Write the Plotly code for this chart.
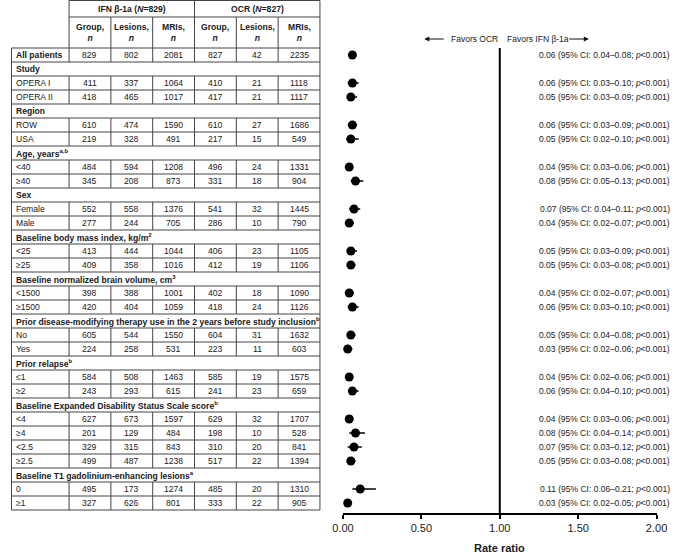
import plotly.graph_objects as go

# rows of the table / forest plot (None = section header row)
row_labels = [
    "All patients",
    "Study", "OPERA I", "OPERA II",
    "Region", "ROW", "USA",
    "Age, years<sup>a,b</sup>", "<40", "≥40",
    "Sex", "Female", "Male",
    "Baseline body mass index, kg/m<sup>2</sup>", "<25", "≥25",
    "Baseline normalized brain volume, cm<sup>3</sup>", "<1500", "≥1500",
    "Prior disease-modifying therapy use in the 2 years before study inclusion<sup>b</sup>", "No", "Yes",
    "Prior relapse<sup>b</sup>", "≤1", "≥2",
    "Baseline Expanded Disability Status Scale score<sup>b</sup>", "<4", "≥4", "<2.5", "≥2.5",
    "Baseline T1 gadolinium-enhancing lesions<sup>a</sup>", "0", "≥1",
]
ifn_group = [829, None, 411, 418, None, 610, 219, None, 484, 345, None, 552, 277,
             None, 413, 409, None, 398, 420, None, 605, 224, None, 584, 243,
             None, 627, 201, 329, 499, None, 495, 327]
ifn_lesions = [802, None, 337, 465, None, 474, 328, None, 594, 208, None, 558, 244,
               None, 444, 358, None, 388, 404, None, 544, 258, None, 508, 293,
               None, 673, 129, 315, 487, None, 173, 626]
ifn_mris = [2081, None, 1064, 1017, None, 1590, 491, None, 1208, 873, None, 1376, 705,
            None, 1044, 1016, None, 1001, 1059, None, 1550, 531, None, 1463, 615,
            None, 1597, 484, 843, 1238, None, 1274, 801]
ocr_group = [827, None, 410, 417, None, 610, 217, None, 496, 331, None, 541, 286,
             None, 406, 412, None, 402, 418, None, 604, 223, None, 585, 241,
             None, 629, 198, 310, 517, None, 485, 333]
ocr_lesions = [42, None, 21, 21, None, 27, 15, None, 24, 18, None, 32, 10,
               None, 23, 19, None, 18, 24, None, 31, 11, None, 19, 23,
               None, 32, 10, 20, 22, None, 20, 22]
ocr_mris = [2235, None, 1118, 1117, None, 1686, 549, None, 1331, 904, None, 1445, 790,
            None, 1105, 1106, None, 1090, 1126, None, 1632, 603, None, 1575, 659,
            None, 1707, 528, 841, 1394, None, 1310, 905]
rate = [0.06, None, 0.06, 0.05, None, 0.06, 0.05, None, 0.04, 0.08, None, 0.07, 0.04,
        None, 0.05, 0.05, None, 0.04, 0.06, None, 0.05, 0.03, None, 0.04, 0.06,
        None, 0.04, 0.08, 0.07, 0.05, None, 0.11, 0.03]
ci_low = [0.04, None, 0.03, 0.03, None, 0.03, 0.02, None, 0.03, 0.05, None, 0.04, 0.02,
          None, 0.03, 0.03, None, 0.02, 0.03, None, 0.04, 0.02, None, 0.02, 0.04,
          None, 0.03, 0.04, 0.03, 0.03, None, 0.06, 0.02]
ci_high = [0.08, None, 0.10, 0.09, None, 0.09, 0.10, None, 0.06, 0.13, None, 0.11, 0.07,
           None, 0.09, 0.08, None, 0.07, 0.10, None, 0.08, 0.06, None, 0.06, 0.10,
           None, 0.06, 0.14, 0.12, 0.08, None, 0.21, 0.05]
x_ticks = [0, 0.5, 1.0, 1.5, 2.0]

FONT = "Arial, Liberation Sans, sans-serif"
TXT = "#1a1a1a"
LINE = "#444444"
TSIZE = 8.6                   # table text size
W, H = 685, 557
PITCH, FIRST = 14.0, 55.0     # px between rows, px of first row centre
AXIS_PX = 513


def py(px):
    # pixel row -> y data units (row index)
    return (px - FIRST) / PITCH


def fx(px):
    return px / W


def esc(s):
    return s.replace("<sup>", "\x01").replace("</sup>", "\x02") \
            .replace("<", "&lt;").replace("\x01", "<sup>").replace("\x02", "</sup>")


n_rows = len(row_labels)
is_section = [ifn_group[i] is None and i > 0 for i in range(n_rows)]
edges = [0.5, 60, 103.2, 146.4, 189.6, 232.8, 276, 319.2]

shapes = []
annots = []


def hline(y, x0, x1):
    shapes.append(dict(type="line", xref="paper", yref="y", x0=fx(x0), x1=fx(x1),
                       y0=y, y1=y, line=dict(color=LINE, width=1)))


def vline(x, y0, y1):
    shapes.append(dict(type="line", xref="paper", yref="y", x0=fx(x), x1=fx(x),
                       y0=y0, y1=y1, line=dict(color=LINE, width=1)))


hdr1_top, hdr2_top = py(0.5), py(17)

# header lines
hline(hdr1_top, edges[1], edges[-1])
hline(hdr2_top, edges[1], edges[-1])
vline(edges[1], hdr1_top, -0.5)
vline(edges[4], hdr1_top, -0.5)
vline(edges[-1], hdr1_top, -0.5)
for e in edges[2:-1]:
    vline(e, hdr2_top, -0.5)

# body lines
for i in range(n_rows + 1):
    hline(i - 0.5, edges[0], edges[-1])
vline(edges[0], -0.5, n_rows - 0.5)
vline(edges[-1], -0.5, n_rows - 0.5)
start = None
for i in range(n_rows + 1):
    data_row = i < n_rows and not is_section[i]
    if data_row and start is None:
        start = i
    if not data_row and start is not None:
        for e in edges[1:-1]:
            vline(e, start - 0.5, i - 0.5)
        start = None


def text(x, y, s, size=TSIZE, anchor="center", color=TXT, xref="paper", yref="y"):
    annots.append(dict(x=x, y=y, xref=xref, yref=yref, text=s, showarrow=False,
                       xanchor=anchor, yanchor="middle",
                       font=dict(family=FONT, size=size, color=color)))


# header texts
hdr1_mid = (hdr1_top + hdr2_top) / 2
text(fx((edges[1] + edges[4]) / 2), hdr1_mid, "<b>IFN β-1a (<i>N</i>=829)</b>")
text(fx((edges[4] + edges[7]) / 2), hdr1_mid, "<b>OCR (<i>N</i>=827)</b>")
sub_heads = ["Group,", "Lesions,", "MRIs,"] * 2
for k, h in enumerate(sub_heads):
    text(fx((edges[k + 1] + edges[k + 2]) / 2), (hdr2_top - 0.5) / 2,
         "<b>%s</b><br><b><i>n</i></b>" % h)

# body texts
columns = [ifn_group, ifn_lesions, ifn_mris, ocr_group, ocr_lesions, ocr_mris]
for i, lab in enumerate(row_labels):
    bold = is_section[i] or i == 0
    s = esc(lab)
    text(fx(3.5), i, "<b>%s</b>" % s if bold else s, anchor="left")
    if is_section[i]:
        continue
    for k, col in enumerate(columns):
        text(fx((edges[k + 1] + edges[k + 2]) / 2), i, str(col[i]))
    text(fx(683), i, "%.2f (95%% CI: %.2f–%.2f; <i>p</i>&lt;0.001)"
         % (rate[i], ci_low[i], ci_high[i]), size=8.5, anchor="right", color="#222222")

# favors labels with arrows
fav_y = py(39)
text(fx(453), fav_y, "Favors OCR", size=8.5, anchor="left", color="#222222")
text(fx(510), fav_y, "Favors IFN β-1a", size=8.5, anchor="left", color="#222222")
annots.append(dict(x=fx(427), y=fav_y, xref="paper", yref="y", ax=21, ay=0, text="",
                   showarrow=True, arrowhead=2, arrowsize=1, arrowwidth=1, arrowcolor="#111"))
annots.append(dict(x=fx(597), y=fav_y, xref="paper", yref="y", ax=-21, ay=0, text="",
                   showarrow=True, arrowhead=2, arrowsize=1, arrowwidth=1, arrowcolor="#111"))

# axis title (paper ref: data-ref annotations outside the range get hidden)
text(1, 1 - 548 / H, "<b>Rate ratio</b>", size=11, xref="x", yref="paper")

# reference line at 1
shapes.append(dict(type="line", xref="x", yref="y", x0=1, x1=1, y0=-0.5, y1=py(AXIS_PX),
                   line=dict(color="black", width=2)))

idx = [i for i in range(n_rows) if rate[i] is not None]
fig = go.Figure()
fig.add_trace(go.Scatter(
    x=[rate[i] for i in idx],
    y=idx,
    mode="markers",
    marker=dict(size=9, color="black"),
    error_x=dict(type="data", symmetric=False,
                 array=[ci_high[i] - rate[i] for i in idx],
                 arrayminus=[rate[i] - ci_low[i] for i in idx],
                 thickness=1.5, width=0, color="black"),
    cliponaxis=False,
    hoverinfo="skip"))

fig.update_xaxes(range=[0, 2], domain=[fx(343), fx(667)],
                 tickvals=x_ticks, tickformat=".2f",
                 showline=True, linecolor="black", linewidth=2,
                 ticks="outside", ticklen=4, tickwidth=2, tickcolor="black",
                 showgrid=False, zeroline=False,
                 tickfont=dict(family=FONT, size=11, color="#222222"))
fig.update_yaxes(range=[py(AXIS_PX), py(0)], domain=[1 - AXIS_PX / H, 1],
                 visible=False, showgrid=False, zeroline=False)

fig.update_layout(width=W, height=H, showlegend=False,
                  plot_bgcolor="white", paper_bgcolor="white",
                  margin=dict(t=0, l=0, r=0, b=0),
                  shapes=shapes, annotations=annots)

# the page body has a default 8px margin; drop it so the figure fills the window
fig.write_html("out.html", config={"displayModeBar": False},
               post_script="document.body.style.margin = '0';")
